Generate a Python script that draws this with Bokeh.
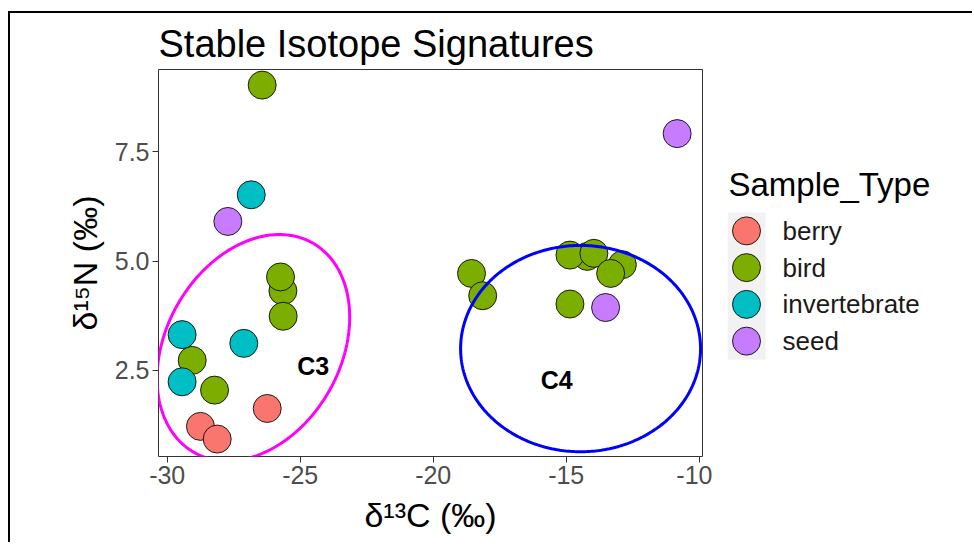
import numpy as np
from bokeh.plotting import figure
from bokeh.models import Range1d, FixedTicker, NumeralTickFormatter
from bokeh.layouts import row
from bokeh.core.properties import value
from bokeh.embed import file_html
from bokeh.resources import INLINE

# ---------------- data ----------------
categories = ["berry", "bird", "invertebrate", "seed"]
colors = ["#F8766D", "#7CAE00", "#00BFC4", "#C77CFF"]

berry_x = [-26.24, -28.75, -28.12]
berry_y = [1.63, 1.22, 0.93]

bird_x = [-26.43, -25.65, -25.74, -25.64, -29.06, -28.22,
          -18.56, -18.14, -14.21, -14.86, -13.96, -12.89, -13.33, -14.86]
bird_y = [9.03, 4.32, 4.64, 3.74, 2.73, 2.05,
          4.72, 4.21, 5.11, 5.14, 5.18, 4.92, 4.72, 4.02]

invert_x = [-26.84, -29.44, -27.12, -29.44]
invert_y = [6.52, 3.32, 3.12, 2.24]

seed_x = [-27.72, -13.52, -10.83]
seed_y = [5.91, 3.94, 7.92]

# ellipse annotations: centre, half-extent in x, half-extent in y, correlation
ell_names = ["C3", "C4"]
ell_cx = [-26.76, -14.46]
ell_cy = [3.02, 3.00]
ell_hx = [3.62, 4.51]
ell_hy = [2.59, 2.36]
ell_rho = [0.27, 0.0]
ell_colors = ["#FF00FF", "#0000FF"]

label_x = [-24.51, -15.36]
label_y = [2.60, 2.29]
label_text = ["C3", "C4"]

x_ticks = [-30, -25, -20, -15, -10]
y_ticks = [2.5, 5.0, 7.5]

legend_title = "Sample_Type"

FONT = "Liberation Sans"

# ---------------- main plot ----------------
FRAME_H = 387
p = figure(x_range=Range1d(-30.327, -9.877), y_range=Range1d(0.531, 9.387),
           frame_width=544, frame_height=FRAME_H,
           min_border_left=148, min_border_right=10,
           min_border_top=56, min_border_bottom=80,
           output_backend="svg", toolbar_location=None,
           title="Stable Isotope Signatures")

p.title.text_font = FONT
p.title.text_font_size = "38px"
p.title.text_font_style = "normal"
p.title.text_color = "black"
p.title.align = "left"

p.grid.visible = False
p.outline_line_color = "#333333"
p.outline_line_width = 1
p.background_fill_color = "white"
p.border_fill_color = "white"

p.xaxis.ticker = FixedTicker(ticks=x_ticks)
p.yaxis.ticker = FixedTicker(ticks=y_ticks)
p.xaxis.formatter = NumeralTickFormatter(format="0")
p.yaxis.formatter = NumeralTickFormatter(format="0.0")
for ax in (p.xaxis, p.yaxis):
    ax.axis_line_color = None
    ax.major_tick_line_color = "#333333"
    ax.major_tick_out = 6
    ax.major_tick_in = 0
    ax.minor_tick_line_color = None
    ax.major_label_text_font = FONT
    ax.major_label_text_font_size = "25px"
    ax.major_label_text_color = "#4D4D4D"
    ax.major_label_standoff = 3
    ax.axis_label_text_font = FONT
    ax.axis_label_text_font_size = "34px"
    ax.axis_label_text_font_style = "normal"
    ax.axis_label_text_color = "black"
p.xaxis.axis_label = "δ¹³C (‰)"
p.yaxis.axis_label = "δ¹⁵N (‰)"
p.xaxis.axis_label_standoff = 9
p.yaxis.axis_label_standoff = 8

series = [(berry_x, berry_y), (bird_x, bird_y), (invert_x, invert_y), (seed_x, seed_y)]
for (sx, sy), c in zip(series, colors):
    p.scatter(x=sx, y=sy, size=28, fill_color=c, line_color="black",
              line_width=1, line_alpha=0.85)

t = np.linspace(0, 2 * np.pi, 361)
for cx, cy, hx, hy, rho, col in zip(ell_cx, ell_cy, ell_hx, ell_hy, ell_rho, ell_colors):
    ex = cx + hx * np.cos(t)
    ey = cy + hy * (rho * np.cos(t) + np.sqrt(1 - rho ** 2) * np.sin(t))
    p.line(x=ex, y=ey, line_color=col, line_width=3)

p.text(x=label_x, y=label_y, text=label_text, text_font=value(FONT),
       text_font_style="bold", text_font_size="25px", text_color="black",
       text_align="center", text_baseline="middle")

# ---------------- legend panel (pixel-unit frame aligned with main frame) ----------------
LG_W = 223
lg = figure(x_range=Range1d(0, LG_W), y_range=Range1d(0, FRAME_H),
            frame_width=LG_W, frame_height=FRAME_H,
            min_border_left=15, min_border_right=5,
            min_border_top=56, min_border_bottom=80,
            x_axis_location=None, y_axis_location=None,
            output_backend="svg", toolbar_location=None)
lg.grid.visible = False
lg.outline_line_color = None
lg.border_fill_color = "white"
lg.background_fill_color = "white"

rows_top = 244.0      # top of the key column, in legend-frame pixels from the bottom
pitch = 36.75         # height of one legend row
key_w = 38.0
n = len(categories)
row_y = [rows_top - (i + 0.5) * pitch for i in range(n)]

lg.quad(left=[0], right=[key_w], bottom=[rows_top - n * pitch], top=[rows_top],
        fill_color="#F2F2F2", line_color=None)
lg.scatter(x=[key_w / 2] * n, y=row_y, size=28, fill_color=colors,
           line_color="black", line_width=1, line_alpha=0.85)
lg.text(x=[55] * n, y=row_y, text=categories, text_font=value(FONT),
        text_font_size="26px", text_color="#1A1A1A", text_baseline="middle")
lg.text(x=[1], y=[rows_top + 28], text=[legend_title], text_font=value(FONT),
        text_font_size="33px", text_color="black", text_baseline="alphabetic")

layout = row(p, lg, styles={"border-top": "2px solid black", "border-left": "2px solid black",
                            "position": "relative", "top": "11px", "left": "8px",
                            "padding-right": "17px", "padding-bottom": "6px"})

open("out.html", "w").write(file_html(layout, INLINE))
